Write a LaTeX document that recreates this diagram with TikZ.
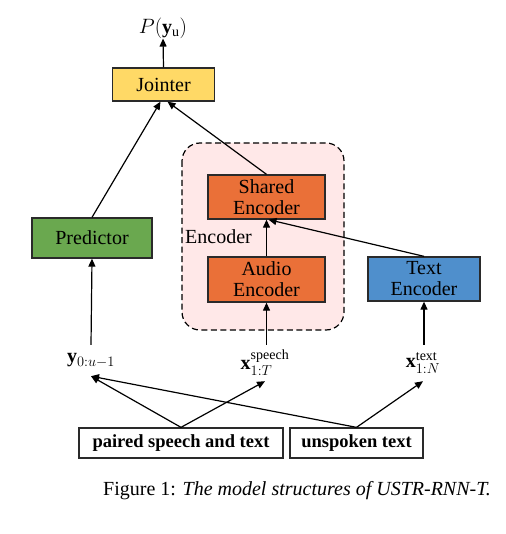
\documentclass[tikz,border=0pt]{standalone}
\usepackage{fontspec}
\setmainfont{Liberation Serif}
\usepackage{amsmath}
\usetikzlibrary{arrows.meta,calc}
\definecolor{jointc}{HTML}{FFD966}
\definecolor{predc}{HTML}{6AA84F}
\definecolor{encc}{HTML}{EA7038}
\definecolor{textc}{HTML}{4F8FCC}
\definecolor{regc}{HTML}{FFE8E8}
\definecolor{edgec}{HTML}{2A2A2A}
\begin{document}
\begin{tikzpicture}[x=1pt,y=-1pt,
  font=\fontsize{20}{22}\selectfont,
  blk/.style={draw=edgec,line width=1.3pt,inner sep=0pt,align=center},
  lab/.style={inner sep=0pt},
  arr/.style={line width=1.2pt,-{Triangle[length=8pt,width=7pt]}},
  ln/.style={line width=1.2pt}]
\useasboundingbox (0,0) rectangle (505,534);
% encoder region
\draw[dash pattern=on 6pt off 3.5pt,line width=1.2pt,fill=regc,rounded corners=18pt] (182,143) rectangle (344,330);
\node[lab,anchor=west] (enclab) at (185,237) {Encoder};
% blocks
\node[blk,fill=jointc,minimum width=102pt,minimum height=33pt] (joint) at (163.5,84.5) {Jointer};
\node[blk,fill=predc,minimum width=120pt,minimum height=40pt] (pred) at (92,238) {Predictor};
\node[blk,fill=encc,minimum width=117pt,minimum height=44pt] (shared) at (266.5,197) {Shared\\[-1pt]Encoder};
\node[blk,fill=encc,minimum width=117pt,minimum height=45pt] (audio) at (266.5,279.5) {Audio\\[-1pt]Encoder};
\node[blk,fill=textc,minimum width=112pt,minimum height=44pt] (tenc) at (424,279) {Text\\[-1pt]Encoder};
% labels
\node[lab] (plab) at (163,28) {$P(\mathbf{y}_{\mathrm{u}})$};
\node[lab,minimum height=31pt] (ylab) at (91,360.5) {$\mathbf{y}_{0:u-1}$};
\node[lab,minimum height=36pt] (xslab) at (265,363) {$\mathbf{x}_{1:T}^{\mathrm{speech}}$};
\node[lab,minimum height=36pt] (xtlab) at (423,363) {$\mathbf{x}_{1:N}^{\mathrm{text}}$};
% sources
\node[blk,font=\fontsize{18.5}{20}\selectfont\bfseries,minimum width=204pt,minimum height=30pt] (paired) at (181,443) {paired speech and text};
\node[blk,font=\fontsize{18.5}{20}\selectfont\bfseries,minimum width=133pt,minimum height=30pt] (unsp) at (356.5,443) {unspoken text};
% caption
\node[lab,anchor=west] (cap) at (103,491) {Figure 1: \textit{The model structures of USTR-RNN-T.}};
% connectors
\draw[arr] (joint.north) -- (plab.south);
\draw[arr] (pred.north) -- ($(joint.south)+(-3,0)$);
\draw[arr] (shared.north) -- ($(joint.south)+(4,0)$);
\draw[arr] (audio.north) -- (shared.south);
\draw[arr] (tenc.north) -- ($(shared.south)+(2,0)$);
\draw[arr] (ylab.north) -- (pred.south);
\draw[arr] (xslab.north -| audio.south) -- (audio.south);
\draw[arr] (xtlab.north -| tenc.south) -- (tenc.south);
\draw[arr] (paired.north) -- (ylab.south);
\draw[arr] (paired.north) -- (xslab.south);
\draw[arr] (unsp.north) -- (ylab.south);
\draw[arr] (unsp.north) -- (xtlab.south);
\end{tikzpicture}
\end{document}
